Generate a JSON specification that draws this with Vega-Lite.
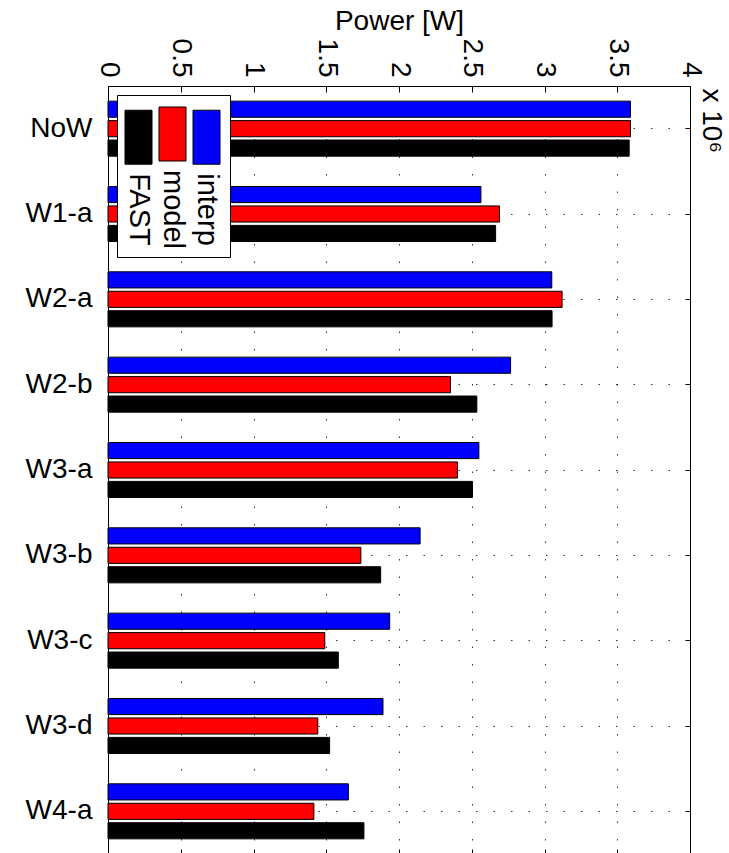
{
  "$schema": "https://vega.github.io/schema/vega-lite/v6.json",
  "autosize": {"type": "none"},
  "width": 582,
  "height": 768,
  "padding": {"left": 108, "top": 86, "right": 39, "bottom": 0},
  "background": "#ffffff",
  "config": {
    "font": "Liberation Sans",
    "view": {"stroke": "#000000", "strokeWidth": 1},
    "axis": {
      "labelFont": "Liberation Sans",
      "titleFont": "Liberation Sans",
      "labelColor": "#000000",
      "titleColor": "#000000",
      "tickColor": "#000000",
      "tickWidth": 1,
      "domain": false
    }
  },
  "data": {
    "values": [
      {"case": "NoW", "method": "interp", "power": 3591000},
      {"case": "NoW", "method": "model", "power": 3591000},
      {"case": "NoW", "method": "FAST", "power": 3582000},
      {"case": "W1-a", "method": "interp", "power": 2563000},
      {"case": "W1-a", "method": "model", "power": 2691000},
      {"case": "W1-a", "method": "FAST", "power": 2664000},
      {"case": "W2-a", "method": "interp", "power": 3050000},
      {"case": "W2-a", "method": "model", "power": 3121000},
      {"case": "W2-a", "method": "FAST", "power": 3052000},
      {"case": "W2-b", "method": "interp", "power": 2767000},
      {"case": "W2-b", "method": "model", "power": 2354000},
      {"case": "W2-b", "method": "FAST", "power": 2535000},
      {"case": "W3-a", "method": "interp", "power": 2549000},
      {"case": "W3-a", "method": "model", "power": 2402000},
      {"case": "W3-a", "method": "FAST", "power": 2505000},
      {"case": "W3-b", "method": "interp", "power": 2145000},
      {"case": "W3-b", "method": "model", "power": 1738000},
      {"case": "W3-b", "method": "FAST", "power": 1874000},
      {"case": "W3-c", "method": "interp", "power": 1936000},
      {"case": "W3-c", "method": "model", "power": 1490000},
      {"case": "W3-c", "method": "FAST", "power": 1583000},
      {"case": "W3-d", "method": "interp", "power": 1890000},
      {"case": "W3-d", "method": "model", "power": 1442000},
      {"case": "W3-d", "method": "FAST", "power": 1523000},
      {"case": "W4-a", "method": "interp", "power": 1652000},
      {"case": "W4-a", "method": "model", "power": 1415000},
      {"case": "W4-a", "method": "FAST", "power": 1759000}
    ]
  },
  "resolve": {"axis": {"x": "independent", "y": "independent"}},
  "layer": [
    {
      "mark": {"type": "bar", "opacity": 0},
      "encoding": {
        "x": {
          "field": "power", "type": "quantitative",
          "scale": {"domain": [0, 4000000], "nice": false, "zero": true},
          "axis": {
            "orient": "bottom", "labels": false, "grid": false, "title": null,
            "values": [0, 500000, 1000000, 1500000, 2000000, 2500000, 3000000, 3500000, 4000000],
            "ticks": true, "tickSize": -5
          }
        },
        "y": {
          "field": "case", "type": "nominal",
          "sort": ["NoW", "W1-a", "W2-a", "W2-b", "W3-a", "W3-b", "W3-c", "W3-d", "W4-a"],
          "scale": {"paddingInner": 0.355, "paddingOuter": 0.1775},
          "axis": {
            "orient": "right", "labels": false, "grid": false, "bandPosition": 0.5,
            "ticks": true, "tickSize": -5,
            "title": "x 10⁶", "titleFontSize": 28, "titleFontWeight": "normal",
            "titleAngle": 90, "titleAlign": "left", "titleBaseline": "middle",
            "titleX": 20, "titleY": 2
          }
        },
        "yOffset": {
          "field": "method", "type": "nominal",
          "scale": {"domain": ["interp", "model", "FAST"], "paddingInner": 0.17, "paddingOuter": 0}
        }
      }
    },
    {
      "mark": {"type": "bar", "stroke": "#000000", "strokeWidth": 1},
      "encoding": {
        "x": {
          "field": "power", "type": "quantitative",
          "axis": {
            "orient": "top",
            "values": [0, 500000, 1000000, 1500000, 2000000, 2500000, 3000000, 3500000, 4000000],
            "labelExpr": "'' + datum.value / 1000000",
            "labelAngle": 90, "labelAlign": "right", "labelBaseline": "middle",
            "labelFontSize": 28, "labelFlush": false, "labelOverlap": false, "labelBound": false,
            "labelPadding": 15, "tickSize": -6,
            "grid": true, "gridColor": "#000000", "gridDash": [1.5, 16], "gridWidth": 1, "gridOpacity": 0.8,
            "title": "Power [W]", "titleFontSize": 28, "titleFontWeight": "normal", "titlePadding": 3
          }
        },
        "y": {
          "field": "case", "type": "nominal",
          "sort": ["NoW", "W1-a", "W2-a", "W2-b", "W3-a", "W3-b", "W3-c", "W3-d", "W4-a"],
          "axis": {
            "orient": "left", "title": null, "bandPosition": 0.5,
            "labelFontSize": 28, "labelAngle": 0, "labelAlign": "right", "labelBaseline": "middle",
            "labelPadding": 21, "tickSize": -5,
            "grid": true, "gridColor": "#000000", "gridDash": [1.5, 16], "gridWidth": 1, "gridOpacity": 0.8
          }
        },
        "yOffset": {"field": "method", "type": "nominal"},
        "color": {
          "field": "method", "type": "nominal",
          "scale": {"domain": ["FAST", "model", "interp"], "range": ["#000000", "#ff0000", "#0000ff"]},
          "legend": {
            "title": null, "orient": "none", "legendX": 9, "legendY": 9,
            "direction": "horizontal", "columns": 3, "columnPadding": 3, "padding": 8,
            "strokeColor": "#000000", "fillColor": "#ffffff",
            "symbolType": "M-0.5,-1H0.5V1H-0.5Z", "symbolSize": 2916,
            "symbolStrokeColor": "#000000", "symbolStrokeWidth": 1, "symbolOpacity": 1,
            "labelFont": "Liberation Sans", "labelFontSize": 29, "labelColor": "#000000",
            "encode": {
              "symbols": {"update": {"x": {"value": 13.5}, "y": {"value": 31}, "stroke": {"value": "#000000"}}},
              "labels": {"update": {
                "x": {"value": 13.5}, "y": {"value": 67}, "angle": {"value": 90},
                "align": {"value": "left"}, "baseline": {"value": "middle"}
              }}
            }
          }
        }
      }
    }
  ]
}
